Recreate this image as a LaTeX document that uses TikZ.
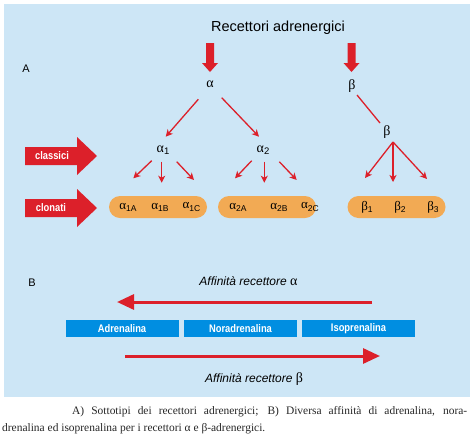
\documentclass[tikz,border=0pt]{standalone}
\usepackage{fontspec}
\setmainfont{Liberation Sans}
\newfontfamily\grk{Liberation Serif}
\newfontfamily\cond[FakeStretch=0.85]{Liberation Sans}
\newfontfamily\capf{Liberation Serif}
\usetikzlibrary{arrows.meta}
\definecolor{panelblue}{RGB}{205,230,246}
\definecolor{myred}{RGB}{220,32,42}
\definecolor{pillorange}{RGB}{242,170,84}
\definecolor{boxblue}{RGB}{0,142,225}
\newcommand{\gsub}[2]{{\grk\fontsize{13}{13}\selectfont #1}\raisebox{-0.4ex}{\fontsize{8.5}{9}\selectfont #2}}
\begin{document}
\begin{tikzpicture}[x=1pt,y=-1pt,
  thinarr/.style={draw=myred, line width=1.3pt, -{Stealth[length=7pt,width=7pt,inset=2pt]}},
  thinline/.style={draw=myred, line width=1.3pt},
  bigarr/.style={draw=myred, line width=3pt, -{Triangle[length=17pt,width=15pt]}},
  greek/.style={inner sep=0pt, font=\grk\fontsize{14}{14}\selectfont},
  pill/.style={fill=pillorange, rounded corners=11pt, minimum width=98pt, minimum height=22pt, inner sep=0pt},
  pilllabel/.style={inner sep=0pt},
  bluebox/.style={fill=boxblue, minimum width=113pt, minimum height=17pt, inner sep=0pt, text=white, font=\cond\bfseries\fontsize{11}{12}\selectfont},
  sidelabel/.style={inner sep=0pt, text=white, font=\cond\bfseries\fontsize{11}{12}\selectfont},
  panelletter/.style={inner sep=0pt, font=\fontsize{11}{12}\selectfont},
  affin/.style={inner sep=0pt, anchor=base, font=\itshape\fontsize{12}{14}\selectfont},
  caption/.style={inner sep=0pt, anchor=base west, text=black!85, font=\capf\fontsize{11.45}{13}\selectfont}
]
\useasboundingbox (0,0) rectangle (474,437);
\fill[panelblue] (4,4) rectangle (470,397);

% title
\node[inner sep=0pt, anchor=base, font=\fontsize{14.5}{16}\selectfont] (title) at (278,31) {Recettori adrenergici};

% thick down arrows
\fill[myred] (206,43) -- (214,43) -- (214,63) -- (218,63) -- (210,72) -- (202,63) -- (206,63) -- cycle;
\fill[myred] (347.5,43) -- (355.5,43) -- (355.5,63) -- (359.5,63) -- (351.5,72) -- (343.5,63) -- (347.5,63) -- cycle;

\node[panelletter] (lblA) at (26,69) {A};

% greek nodes
\node[greek] (alpha) at (210,84) {α};
\node[greek] (beta) at (352,86) {β};
\node[greek] (beta2) at (387,132) {β};
\node[inner sep=0pt] (a1) at (163,150) {{\grk\fontsize{14}{14}\selectfont α}\raisebox{-0.4ex}{\fontsize{9.5}{10}\selectfont 1}};
\node[inner sep=0pt] (a2) at (263,150) {{\grk\fontsize{14}{14}\selectfont α}\raisebox{-0.4ex}{\fontsize{9.5}{10}\selectfont 2}};

% connector coordinates
\coordinate (sA1) at (198.3,99.3);  \coordinate (eA1) at (165.7,136.7);
\coordinate (sA2) at (221.7,97.7);  \coordinate (eA2) at (259,136.7);
\coordinate (sB)  at (357,95);      \coordinate (eB)  at (380,123);
\coordinate (s11) at (151.7,160.7); \coordinate (e11) at (133.3,178.3);
\coordinate (s12) at (161.7,161.7); \coordinate (e12) at (161.7,182.7);
\coordinate (s13) at (176.7,161.7); \coordinate (e13) at (194,180);
\coordinate (s21) at (251.7,160.7); \coordinate (e21) at (235,178.3);
\coordinate (s22) at (264.3,161.7); \coordinate (e22) at (264.3,182.7);
\coordinate (s23) at (279.3,161.7); \coordinate (e23) at (296.7,180);
\coordinate (sB0) at (393,142);
\coordinate (eB1) at (365,178); \coordinate (eB2) at (393,182); \coordinate (eB3) at (427,179);

\draw[thinarr] (sA1) -- (eA1);
\draw[thinarr] (sA2) -- (eA2);
\draw[thinline] (sB) -- (eB);
\draw[thinarr] (s11) -- (e11);
\draw[thinarr] (s12) -- (e12);
\draw[thinarr] (s13) -- (e13);
\draw[thinarr] (s21) -- (e21);
\draw[thinarr] (s22) -- (e22);
\draw[thinarr] (s23) -- (e23);
\draw[thinarr] (sB0) -- (eB1);
\draw[thinarr] (sB0) -- (eB2);
\draw[thinarr] (sB0) -- (eB3);

% side arrows
\fill[myred] (25,147) -- (77,147) -- (77,137) -- (97,156) -- (77,175) -- (77,165) -- (25,165) -- cycle;
\node[sidelabel] (classici) at (52,156) {classici};
\fill[myred] (25,199) -- (77,199) -- (77,189) -- (97,208) -- (77,227) -- (77,217) -- (25,217) -- cycle;
\node[sidelabel] (clonati) at (51,208) {clonati};

% pills
\node[pill] (p1) at (158,207) {};
\node[pill] (p2) at (267,207) {};
\node[pill] (p3) at (396.5,207) {};
\node[pilllabel] (a1A) at (128,207) {\gsub{α}{1A}};
\node[pilllabel] (a1B) at (160,207) {\gsub{α}{1B}};
\node[pilllabel] (a1C) at (191.5,207) {\gsub{α}{1C}};
\node[pilllabel] (a2A) at (238,207) {\gsub{α}{2A}};
\node[pilllabel] (a2B) at (279,207) {\gsub{α}{2B}};
\node[pilllabel] (a2C) at (310,207) {\gsub{α}{2C}};
\node[pilllabel] (b1) at (367,207) {\gsub{β}{1}};
\node[pilllabel] (b2) at (400,207) {\gsub{β}{2}};
\node[pilllabel] (b3) at (433,207) {\gsub{β}{3}};

% part B
\node[panelletter] (lblB) at (32,283) {B};
\node[affin] (affa) at (248.5,285) {Affinità recettore {\grk\upshape\fontsize{14}{14}\selectfont α}};
\coordinate (la) at (372,302); \coordinate (lb) at (117,302);
\draw[bigarr] (la) -- (lb);
\node[bluebox] (adr) at (122,328.5) {Adrenalina};
\node[bluebox] (nor) at (240.5,328.5) {Noradrenalina};
\node[bluebox] (iso) at (358.5,328.5) {Isoprenalina};
\coordinate (ra) at (125,356); \coordinate (rb) at (380,356);
\draw[bigarr] (ra) -- (rb);
\node[affin] (affb) at (254,382) {Affinità recettore {\grk\upshape\fontsize{14}{14}\selectfont β}};

% caption
\node[caption] (cap1) at (72,414) {\hbox to 395pt{A) Sottotipi dei recettori adrenergici; B) Diversa affinità di adrenalina, nora-}};
\node[caption] (cap2) at (2,431) {drenalina ed isoprenalina per i recettori α e β-adrenergici.};
\end{tikzpicture}
\end{document}
